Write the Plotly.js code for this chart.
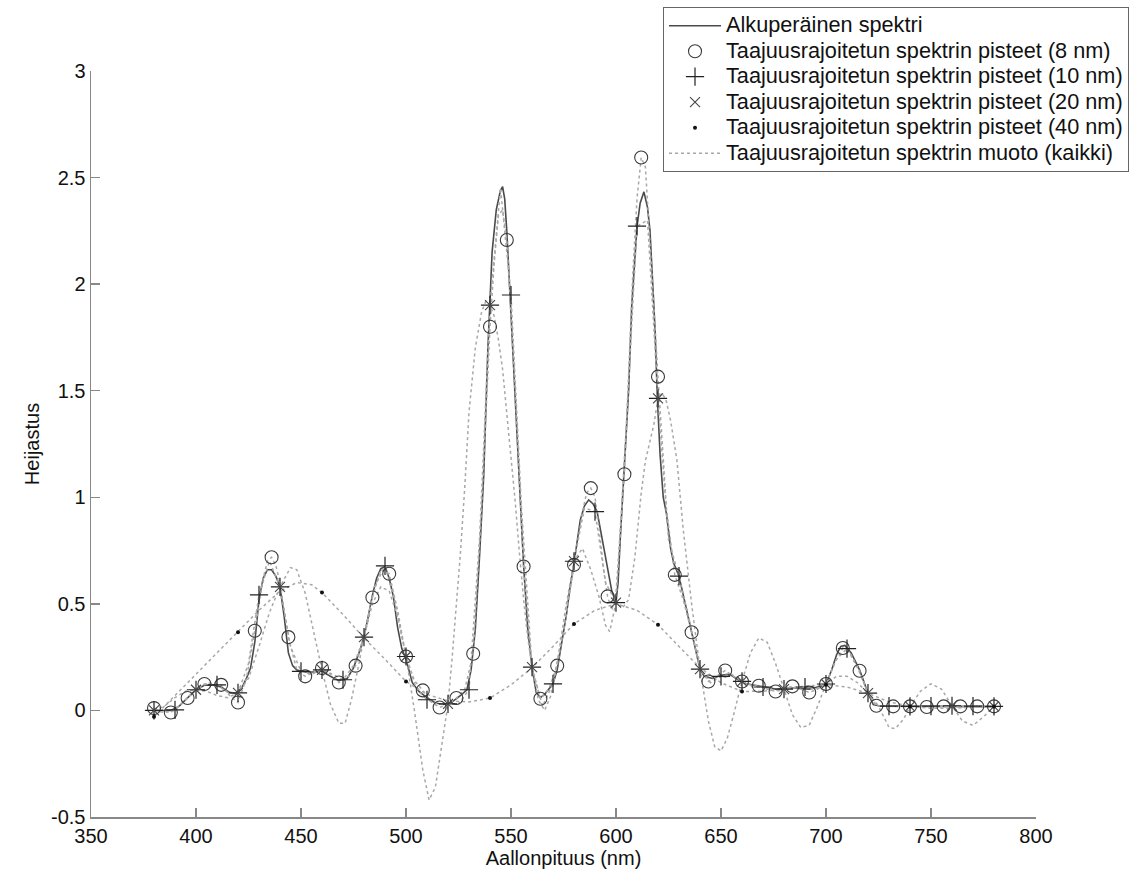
<!DOCTYPE html>
<html>
<head>
<meta charset="utf-8">
<script src="https://cdn.plot.ly/plotly-3.0.1.min.js"></script>
<style>html,body{margin:0;padding:0;background:#fff;}#chart{width:1138px;height:876px;}</style>
</head>
<body>
<div id="chart"></div>
<script>
// Original spectrum
const origX = [380,384,388,392,396,400,404,408,412,416,419,422,424,426,428,430,432,434,436,438,440,442,444,446,448,452,456,460,464,468,472,475,478,480,482,484,486,488,490,492,494,496,498,500,503,506,510,514,518,522,526,529,531,533,535,537,539,541,543,545,546,547,548,549.5,552,554,556,558,560,562,564,566,570,572,574,576.5,578,580,583,585,587,589,591,594,596,598,600,601,602,604,606,607.5,609,610,611.5,613.3,615,616.2,617.5,618.6,619.7,621,622.5,624,626,627.5,630,633,636,638,640,642,646,650,654,658,662,668,676,684,692,698,700,702.7,705,707,709,712,716,720,722.5,726,740,760,780];
const origY = [0.0,0.0,0.0,0.02,0.06,0.097,0.118,0.12,0.11,0.085,0.078,0.11,0.15,0.2,0.32,0.52,0.62,0.66,0.66,0.63,0.58,0.44,0.27,0.21,0.19,0.18,0.18,0.185,0.16,0.14,0.15,0.2,0.28,0.344,0.44,0.54,0.62,0.665,0.675,0.62,0.534,0.39,0.29,0.24,0.13,0.09,0.06,0.035,0.028,0.04,0.07,0.097,0.19,0.38,0.72,1.1,1.7,2.15,2.35,2.44,2.457,2.4,2.25,1.957,1.47,1.05,0.68,0.38,0.203,0.085,0.06,0.075,0.125,0.19,0.3,0.457,0.57,0.69,0.894,0.96,0.988,0.97,0.933,0.769,0.65,0.56,0.506,0.6,0.8,1.15,1.5,1.9,2.15,2.27,2.38,2.433,2.36,2.25,2.0,1.785,1.464,1.2,1.0,0.925,0.76,0.69,0.63,0.5,0.38,0.28,0.194,0.16,0.15,0.165,0.17,0.145,0.125,0.115,0.1,0.105,0.1,0.115,0.124,0.19,0.26,0.3,0.305,0.27,0.19,0.081,0.027,0.02,0.02,0.02,0.018];

// Sampled points of band-limited spectra
const x8 = [380,388,396,404,412,420,428,436,444,452,460,468,476,484,492,500,508,516,524,532,540,548,556,564,572,580,588,596,604,612,620,628,636,644,652,660,668,676,684,692,700,708,716,724,732,740,748,756,764,772,780];
const y8 = [0.011,-0.01,0.058,0.124,0.12,0.037,0.374,0.719,0.344,0.16,0.199,0.131,0.21,0.53,0.641,0.253,0.094,0.014,0.058,0.266,1.80,2.207,0.675,0.055,0.21,0.683,1.043,0.535,1.108,2.594,1.566,0.636,0.367,0.136,0.187,0.136,0.116,0.089,0.113,0.084,0.124,0.293,0.186,0.022,0.019,0.019,0.016,0.019,0.019,0.019,0.019];
const x10 = [380,390,400,410,420,430,440,450,460,470,480,490,500,510,520,530,540,550,560,570,580,590,600,610,620,630,640,650,660,670,680,690,700,710,720,730,740,750,760,770,780];
const y10 = [0.0,0.003,0.097,0.12,0.082,0.542,0.58,0.183,0.19,0.144,0.344,0.678,0.253,0.05,0.031,0.097,1.902,1.949,0.203,0.125,0.70,0.933,0.506,2.272,1.464,0.63,0.194,0.16,0.136,0.11,0.1,0.11,0.124,0.29,0.081,0.02,0.019,0.02,0.022,0.02,0.019];
const x20 = [380,400,420,440,460,480,500,520,540,560,580,600,620,640,660,680,700,720,740,760,780];
const y20 = [0.0,0.097,0.082,0.58,0.19,0.344,0.253,0.031,1.902,0.203,0.70,0.506,1.464,0.194,0.136,0.1,0.124,0.081,0.019,0.022,0.019];
const x40 = [380,420,460,500,540,580,620,660,700,740,780];
const y40 = [-0.03,0.367,0.553,0.136,0.058,0.406,0.402,0.089,0.12,0.019,0.019];

// Shapes of the band-limited spectra (dotted)
const shape40X = [380,390,400,410,420,430,440,448,455,460,470,480,490,500,510,520,530,540,550,560,570,580,590,600,610,620,630,640,650,660,670,680,690,700,710,720,730,740,750,760,770,780];
const shape40Y = [-0.03,0.07,0.17,0.27,0.367,0.47,0.56,0.60,0.59,0.553,0.45,0.34,0.24,0.136,0.075,0.045,0.04,0.058,0.12,0.2,0.3,0.406,0.47,0.50,0.47,0.402,0.3,0.2,0.13,0.089,0.09,0.1,0.115,0.12,0.11,0.08,0.04,0.019,0.01,0.01,0.015,0.019];
const shape20X = [380,385,390,395,400,405,410,415,420,425,430,435,440,445,448,452,456,460,464,468,471,474,477,480,484,488,492,496,500,504,508,511,514,517,520,522,524,526,528,530,533,536,538,540,542,544,546,548,550,552,554,556,558,560,563,566,569,572,576,580,584,588,592,595,597,600,603,606,609,612,614,616,618,620,622,624,626,629,632,636,640,644,647,650,653,656,660,664,668,672,676,680,684,688,692,696,700,705,710,715,720,725,730,733,737,740,745,750,755,760,765,770,775,780];
const shape20Y = [0.0,0.02,0.06,0.09,0.097,0.09,0.07,0.06,0.082,0.15,0.3,0.46,0.58,0.67,0.66,0.55,0.37,0.19,0.03,-0.06,-0.06,0.05,0.19,0.344,0.5,0.58,0.56,0.44,0.253,0.0,-0.28,-0.42,-0.36,-0.17,0.031,0.25,0.5,0.75,1.05,1.4,1.7,1.87,1.92,1.902,1.85,1.74,1.6,1.4,1.2,0.98,0.74,0.52,0.34,0.203,0.05,0.0,0.07,0.22,0.48,0.70,0.76,0.66,0.53,0.40,0.37,0.506,0.48,0.52,0.72,1.02,1.17,1.26,1.34,1.464,1.49,1.45,1.36,1.175,0.85,0.5,0.194,-0.05,-0.17,-0.19,-0.13,-0.02,0.136,0.27,0.34,0.32,0.22,0.1,-0.02,-0.08,-0.07,0.02,0.124,0.16,0.16,0.13,0.081,0.02,-0.08,-0.085,-0.04,0.019,0.09,0.125,0.1,0.022,-0.05,-0.07,-0.03,0.019];
const shape10X = [380,385,390,395,400,405,410,415,420,425,430,435,440,445,450,455,460,465,470,475,480,485,490,495,500,505,510,515,520,525,530,535,540,545,550,555,560,565,570,575,580,585,590,595,600,605,610,615,620,625,630,635,640,645,650,655,660,665,670,675,680,685,690,695,700,705,710,715,720,725,730,740,750,760,770,780];
const shape10Y = [0.0,-0.01,0.003,0.05,0.097,0.125,0.12,0.085,0.082,0.22,0.542,0.7,0.58,0.3,0.183,0.17,0.19,0.17,0.144,0.21,0.344,0.58,0.678,0.5,0.253,0.1,0.05,0.03,0.031,0.03,0.097,0.8,1.902,2.45,1.949,0.95,0.203,0.02,0.125,0.38,0.70,0.95,0.933,0.6,0.506,1.35,2.272,2.3,1.464,0.8,0.63,0.42,0.194,0.13,0.16,0.17,0.136,0.11,0.11,0.1,0.1,0.105,0.11,0.1,0.124,0.24,0.29,0.2,0.081,0.02,0.02,0.019,0.02,0.022,0.02,0.019];
const shape8X = [380,384,388,392,396,400,404,408,412,416,420,424,428,432,434,436,438,440,444,448,452,456,460,464,468,472,476,480,484,488,492,496,500,504,508,512,516,520,524,528,532,536,540,542,544,546,548,552,556,560,564,568,572,576,580,584,586,588,590,592,594,596,598,600,604,606,608,610,612,614,616,618,620,624,628,632,636,640,644,648,652,656,660,664,668,672,676,680,684,688,692,696,700,704,708,712,716,720,724,728,740,760,780];
const shape8Y = [0.011,0.0,-0.01,0.02,0.058,0.1,0.124,0.13,0.12,0.07,0.037,0.15,0.374,0.62,0.7,0.719,0.68,0.6,0.344,0.19,0.16,0.18,0.199,0.17,0.131,0.15,0.21,0.35,0.53,0.66,0.641,0.47,0.253,0.14,0.094,0.04,0.014,0.03,0.058,0.1,0.266,0.95,1.80,2.1,2.32,2.35,2.207,1.5,0.675,0.2,0.055,0.1,0.21,0.43,0.683,0.93,1.02,1.043,1.0,0.85,0.67,0.535,0.47,0.55,1.108,1.6,2.05,2.4,2.594,2.55,2.25,1.9,1.566,0.95,0.636,0.52,0.367,0.2,0.136,0.16,0.187,0.16,0.136,0.12,0.116,0.1,0.089,0.1,0.113,0.1,0.084,0.1,0.124,0.22,0.293,0.26,0.186,0.08,0.022,0.02,0.019,0.019,0.019];

const xTicks = [350,400,450,500,550,600,650,700,750,800];
const yTicks = [-0.5,0,0.5,1,1.5,2,2.5,3];
const yTickText = ['-0.5','0','0.5','1','1.5','2','2.5','3'];

const names = {
  orig: 'Alkuperäinen spektri',
  p8: 'Taajuusrajoitetun spektrin pisteet (8 nm)',
  p10: 'Taajuusrajoitetun spektrin pisteet (10 nm)',
  p20: 'Taajuusrajoitetun spektrin pisteet (20 nm)',
  p40: 'Taajuusrajoitetun spektrin pisteet (40 nm)',
  shape: 'Taajuusrajoitetun spektrin muoto (kaikki)'
};
// legend labels drawn a little larger than the legend row spacing font
const big = s => '<span style="font-size:21.7px">' + s + '</span>';

const dotLine = {color: '#a8a8a8', width: 1.5, dash: 'dot'};
const traces = [
  {x: origX, y: origY, mode: 'lines', name: big(names.orig), legendrank: 1,
   line: {color: '#4a4a4a', width: 1.6}},
  {x: shape40X, y: shape40Y, mode: 'lines', name: big(names.shape), legendrank: 6, line: dotLine},
  {x: shape20X, y: shape20Y, mode: 'lines', name: names.shape, showlegend: false, line: dotLine},
  {x: shape10X, y: shape10Y, mode: 'lines', name: names.shape, showlegend: false, line: dotLine},
  {x: shape8X, y: shape8Y, mode: 'lines', name: names.shape, showlegend: false, line: dotLine},
  {x: x8, y: y8, mode: 'markers', name: big(names.p8), legendrank: 2,
   marker: {symbol: 'circle-open', size: 13, color: '#3a3a3a', line: {width: 1.1, color: '#3a3a3a'}}},
  {x: x10, y: y10, mode: 'markers', name: big(names.p10), legendrank: 3,
   marker: {symbol: 'cross-thin-open', size: 13, color: '#222', line: {width: 1.2, color: '#222'}}},
  {x: x20, y: y20, mode: 'markers', name: big(names.p20), legendrank: 4,
   marker: {symbol: 'x-thin-open', size: 10, color: '#444', line: {width: 1.1, color: '#444'}}},
  {x: x40, y: y40, mode: 'markers', name: big(names.p40), legendrank: 5,
   marker: {symbol: 'circle', size: 4, color: '#111'}}
];

const fontFam = '"Liberation Sans", Arial, Helvetica, sans-serif';
const layout = {
  width: 1138, height: 876,
  margin: {l: 91, r: 102, t: 71, b: 59, autoexpand: false},
  paper_bgcolor: '#fff', plot_bgcolor: '#fff',
  font: {family: fontFam, size: 20, color: '#111'},
  showlegend: true,
  legend: {
    x: 0.6053, y: 1.0858, xanchor: 'left', yanchor: 'top',
    bgcolor: '#fff', bordercolor: '#666', borderwidth: 1,
    font: {family: fontFam, size: 17.3, color: '#111'},
    itemwidth: 52, traceorder: 'normal'
  },
  xaxis: {
    range: [350, 800], tickvals: xTicks, ticktext: xTicks.map(String),
    ticks: 'inside', ticklen: 9, tickcolor: '#888', tickwidth: 1.5,
    showline: true, linecolor: '#888', linewidth: 1.5, mirror: false,
    showgrid: false, zeroline: false,
    tickfont: {family: fontFam, size: 20, color: '#111'},
    title: {text: 'Aallonpituus (nm)', font: {family: fontFam, size: 20, color: '#111'}, standoff: 4}
  },
  yaxis: {
    range: [-0.5, 3], tickvals: yTicks, ticktext: yTickText,
    ticks: 'inside', ticklen: 9, tickcolor: '#888', tickwidth: 1.5,
    showline: true, linecolor: '#888', linewidth: 1.5, mirror: false,
    showgrid: false, zeroline: false,
    tickfont: {family: fontFam, size: 20, color: '#111'},
    title: {text: 'Heijastus', font: {family: fontFam, size: 20, color: '#111'}, standoff: 6}
  }
};

Plotly.newPlot('chart', traces, layout, {displayModeBar: false, staticPlot: true});
</script>
</body>
</html>
